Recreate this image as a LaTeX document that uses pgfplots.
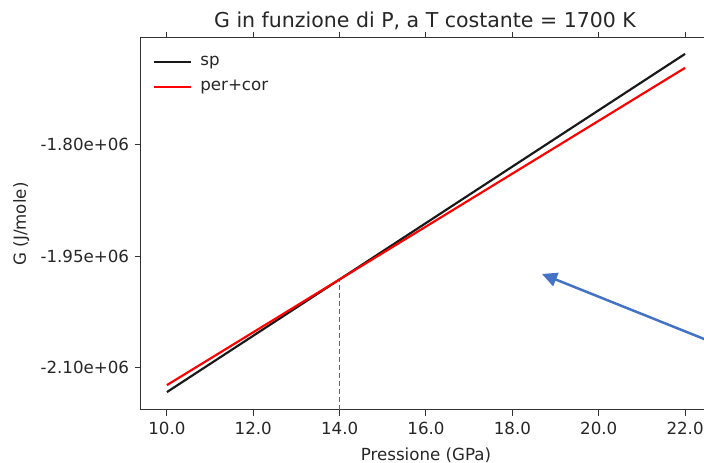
\documentclass[border=0pt]{standalone}
\usepackage{fontspec}
\setmainfont{DejaVu Sans}
\usepackage{pgfplots}
\pgfplotsset{compat=1.18}
\usetikzlibrary{arrows.meta}

\definecolor{dashblue}{HTML}{2F66D6}
\definecolor{arrowblue}{HTML}{4472C4}

\begin{document}
\begin{tikzpicture}
\begin{axis}[
    at={(84.6pt,31.8pt)}, anchor=south west,
    scale only axis,
    width=342pt, height=223.2pt,
    xmin=9.4, xmax=22.6,
    ymin=-2.157e6, ymax=-1.656e6,
    xtick={10,12,14,16,18,20,22},
    xticklabels={10.0,12.0,14.0,16.0,18.0,20.0,22.0},
    ytick={-2.1e6,-1.95e6,-1.8e6},
    yticklabels={-2.10e+06,-1.95e+06,-1.80e+06},
    scaled y ticks=false,
    tick align=outside,
    major tick length=3.6pt,
    tick style={black!80, line width=0.6pt},
    axis line style={black!80, line width=0.6pt},
    ticklabel style={font=\fontsize{10}{12}\selectfont, text=black!85},
    xlabel={Pressione (GPa)},
    ylabel={G (J/mole)},
    label style={font=\fontsize{10}{12}\selectfont, text=black!85},
    xlabel style={yshift=-1pt},
    ylabel style={yshift=0pt},
    legend style={draw=none, fill=none, at={(0.012,0.97)}, anchor=north west,
        font=\fontsize{10}{12}\selectfont, text=black!85, row sep=3.5pt,
        nodes={inner xsep=5pt}},
    legend cell align=left,
    legend image code/.code={\draw[#1] (0pt,0pt) -- (22pt,0pt);},
]
\addplot[draw=dashblue, line width=0.8pt, dash pattern=on 3pt off 1.8pt, forget plot] coordinates {
(14,-2.157e6) (14,-1.9811e6)
};
\addplot[black!90, line width=1.3pt] coordinates {
(10,-2.1329e6) (12,-2.0570e6) (14,-1.9811e6) (16,-1.9052e6)
(18,-1.8292e6) (20,-1.7533e6) (22,-1.6774e6)
};
\addlegendentry{sp}
\addplot[red, line width=1.3pt] coordinates {
(10,-2.1235e6) (12,-2.0523e6) (14,-1.9811e6) (16,-1.9099e6)
(18,-1.8387e6) (20,-1.7675e6) (22,-1.6962e6)
};
\addlegendentry{per+cor}
\end{axis}
\begin{scope}[x=0.6pt,y=0.6pt]
% title
\node[anchor=base, font=\fontsize{12.3}{14}\selectfont, text=black!85] at (425,435) {G in funzione di P, a T costante = 1700 K};
% annotation arrow
\draw[arrowblue, line width=1.5pt, -{Triangle[length=9pt,width=8.5pt]}] (740,109.6) -- (542,189);
\pgfresetboundingbox
\path (0,0) rectangle (704,463);
\end{scope}
\end{tikzpicture}
\end{document}
